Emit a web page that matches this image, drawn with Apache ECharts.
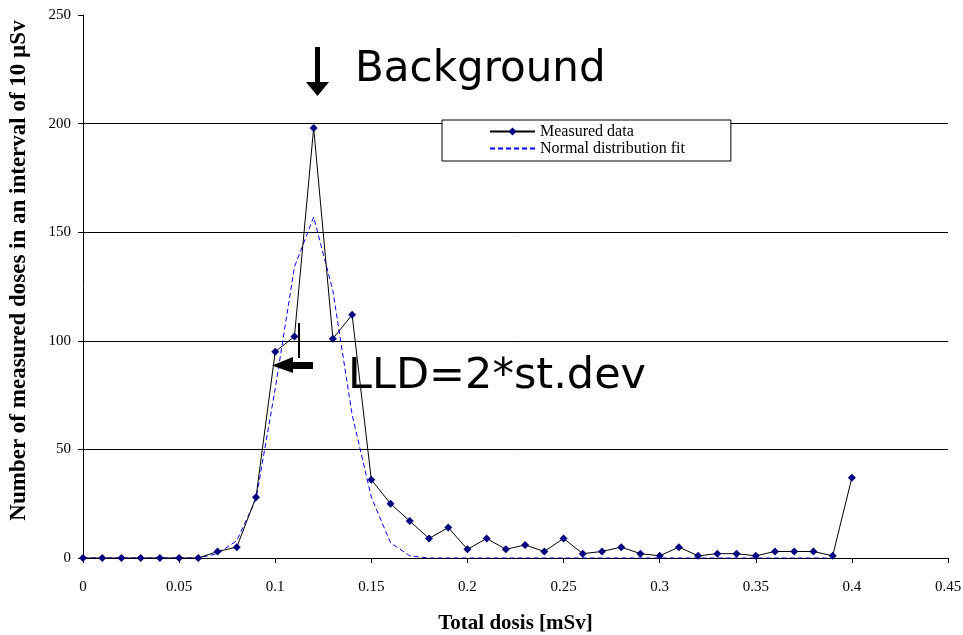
<!DOCTYPE html>
<html>
<head>
<meta charset="utf-8">
<script src="https://cdn.jsdelivr.net/npm/echarts@6/dist/echarts.min.js"></script>
<style>html,body{margin:0;padding:0;background:#fff;}#c{width:963px;height:635px;}</style>
</head>
<body>
<div id="c"></div>
<script>
const doseValues = [0,0.01,0.02,0.03,0.04,0.05,0.06,0.07,0.08,0.09,0.10,0.11,0.12,0.13,0.14,0.15,0.16,0.17,0.18,0.19,0.20,0.21,0.22,0.23,0.24,0.25,0.26,0.27,0.28,0.29,0.30,0.31,0.32,0.33,0.34,0.35,0.36,0.37,0.38,0.39,0.40];
const measuredCounts = [0,0,0,0,0,0,0,3,5,28,95,102,198,101,112,36,25,17,9,14,4,9,4,6,3,9,2,3,5,2,1,5,1,2,2,1,3,3,3,1,37];
const fitCounts = [0,0,0,0,0,0,0,2,8,27,78,134,157,123,66,28,7,1,0,0,0,0,0,0,0,0,0,0,0,0,0,0,0,0,0,0,0,0,0,0];
const xTicks = [0,0.05,0.1,0.15,0.2,0.25,0.3,0.35,0.4,0.45];
const yTicks = [0,50,100,150,200,250];
const seriesNames = ['Measured data','Normal distribution fit'];
const xTitle = 'Total dosis [mSv]';
const yTitle = 'Number of measured doses in an interval of 10 µSv';
const annotations = ['Background','LLD=2*st.dev'];

const measuredData = doseValues.map((x,i)=>[x, measuredCounts[i]]);
const fitData = fitCounts.map((v,i)=>[doseValues[i], v]);

const chart = echarts.init(document.getElementById('c'), null, {renderer:'canvas'});
const serif = '"Liberation Serif", "Times New Roman", serif';
chart.setOption({
  animation:false,
  backgroundColor:'#ffffff',
  grid:{left:83, right:15, top:15, bottom:77, containLabel:false, outerBoundsMode:'none'},
  xAxis:{
    type:'value', min:xTicks[0], max:xTicks[xTicks.length-1], interval:0.05,
    name:xTitle, nameLocation:'middle', nameGap:55,
    nameTextStyle:{fontFamily:serif, fontWeight:'bold', fontSize:21, color:'#000'},
    axisLine:{show:true, onZero:false, lineStyle:{color:'#000', width:1}},
    axisTick:{show:true, inside:false, length:5, lineStyle:{color:'#000'}},
    axisLabel:{fontFamily:serif, fontSize:15, color:'#000', margin:22},
    splitLine:{show:false}
  },
  yAxis:{
    type:'value', min:yTicks[0], max:yTicks[yTicks.length-1], interval:50,
    name:yTitle, nameLocation:'middle', nameGap:52,
    nameTextStyle:{fontFamily:serif, fontWeight:'bold', fontSize:23, color:'#000', padding:[0,0,0,32]},
    axisLine:{show:true, lineStyle:{color:'#000', width:1}},
    axisTick:{show:true, inside:false, length:5, lineStyle:{color:'#000'}},
    axisLabel:{fontFamily:serif, fontSize:15, color:'#000', margin:12},
    splitLine:{show:true, showMaxLine:false, showMinLine:false, lineStyle:{color:'#000', width:1}}
  },
  legend:{
    data:[{name:seriesNames[0]},{name:seriesNames[1], itemStyle:{opacity:0}}],
    orient:'vertical', left:442, top:120,
    backgroundColor:'#fff', borderColor:'#000', borderWidth:1, borderRadius:0,
    padding:[3,46,4,47], itemGap:0, itemWidth:45, itemHeight:10,
    textStyle:{fontFamily:serif, fontSize:16, color:'#000', lineHeight:17}
  },
  series:[
    {
      name:seriesNames[0], type:'line', data:measuredData,
      symbol:'diamond', symbolSize:8, showSymbol:true,
      lineStyle:{color:'#000', width:1},
      itemStyle:{color:'#000080'},
      z:3
    },
    {
      name:seriesNames[1], type:'line', data:fitData,
      symbol:'none', showSymbol:false,
      lineStyle:{color:'#0000ff', width:1, type:[5,3]},
      itemStyle:{color:'#0000ff'},
      z:2
    }
  ],
  graphic:[
    {type:'text', style:{text:annotations[0], font:'42px "DejaVu Sans", sans-serif', fill:'#000'}, x:355, y:49, z:10},
    {type:'text', style:{text:annotations[1], font:'43px "DejaVu Sans", sans-serif', fill:'#000', verticalAlign:'middle'}, x:348, y:377, z:10},
    {type:'rect', shape:{x:315, y:47, width:5, height:36}, style:{fill:'#000'}, z:10},
    {type:'polygon', shape:{points:[[306,82],[329,82],[317.5,96]]}, style:{fill:'#000'}, z:10},
    {type:'rect', shape:{x:291, y:362, width:22, height:7}, style:{fill:'#000'}, z:10},
    {type:'polygon', shape:{points:[[272,365.5],[293,357],[293,373]]}, style:{fill:'#000'}, z:10},
    {type:'rect', shape:{x:298, y:323, width:2, height:35}, style:{fill:'#000'}, z:10}
  ]
});
</script>
</body>
</html>
